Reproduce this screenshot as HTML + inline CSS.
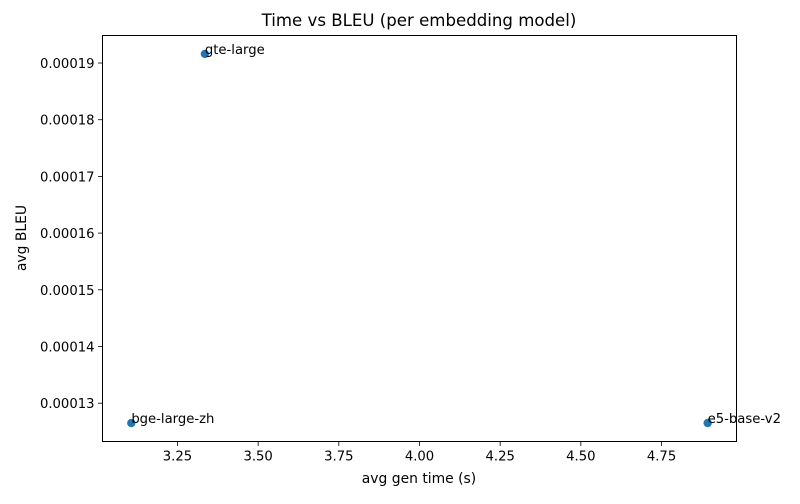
<!DOCTYPE html>
<html><head><meta charset="utf-8"><style>
body{margin:0;background:#fff;font-family:"DejaVu Sans","Liberation Sans",sans-serif;}
svg text{font-family:"DejaVu Sans","Liberation Sans",sans-serif;}
</style></head><body>
<svg id="chart" width="800" height="500" viewBox="0 0 800 500" xmlns="http://www.w3.org/2000/svg">
<rect width="800" height="500" fill="#fff"/>
<text x="419" y="26" font-size="16.6" text-anchor="middle">Time vs BLEU (per embedding model)</text>
<g id="ax"></g>
<rect x="102.5" y="35.5" width="634" height="406" fill="none" stroke="#000" stroke-width="1"/>
<text x="419" y="483" font-size="13.9" text-anchor="middle">avg gen time (s)</text>
<text transform="translate(26,238) rotate(-90)" font-size="13.9" text-anchor="middle">avg BLEU</text>
</svg>
<script>
const models=["gte-large","bge-large-zh","e5-base-v2"];
const times=[3.335,3.107,4.893];
const bleus=[0.0001916,0.0001265,0.0001265];
const xTicks=[3.25,3.5,3.75,4.0,4.25,4.5,4.75];
const xTickLabels=["3.25","3.50","3.75","4.00","4.25","4.50","4.75"];
const yTicks=[0.00013,0.00014,0.00015,0.00016,0.00017,0.00018,0.00019];
const yTickLabels=["0.00013","0.00014","0.00015","0.00016","0.00017","0.00018","0.00019"];

const L=102.5,R=736.5,T=35.5,B=441.5;
const xmin0=Math.min(...times),xmax0=Math.max(...times);
const ymin0=Math.min(...bleus),ymax0=Math.max(...bleus);
const xm=(xmax0-xmin0)*0.05,ym=(ymax0-ymin0)*0.05;
const xlo=xmin0-xm,xhi=xmax0+xm,ylo=ymin0-ym,yhi=ymax0+ym;
const xs=v=>L+(v-xlo)/(xhi-xlo)*(R-L);
const ys=v=>B-(v-ylo)/(yhi-ylo)*(B-T);
const NS="http://www.w3.org/2000/svg";
const g=document.getElementById('ax');
function mk(t,a){const e=document.createElementNS(NS,t);for(const k in a)e.setAttribute(k,a[k]);g.appendChild(e);return e;}
xTicks.forEach((v,i)=>{
  const x=xs(v);
  const tk=mk('line',{x1:x,x2:x,y1:B,y2:B+4.5,stroke:'#000','stroke-width':0.8});
  
  
  const t=mk('text',{x:x,y:B+19,'font-size':13.2,'text-anchor':'middle'});
  t.textContent=xTickLabels[i];
  
  
});
yTicks.forEach((v,i)=>{
  const y=ys(v);
  const tk=mk('line',{x1:L-4.5,x2:L,y1:y,y2:y,stroke:'#000','stroke-width':0.8});
  
  
  const t=mk('text',{x:L-8,y:y+5,'font-size':13.2,'text-anchor':'end'});
  t.textContent=yTickLabels[i];
  
  
});
models.forEach((m,i)=>{
  const x=xs(times[i]),y=ys(bleus[i]);
  const c=mk('circle',{cx:x,cy:y,r:4.2,fill:'#1f77b4'});
  
  
  const t=mk('text',{x:x,y:y,'font-size':13.2});
  t.textContent=m;
  
  
});
</script>
</body></html>
